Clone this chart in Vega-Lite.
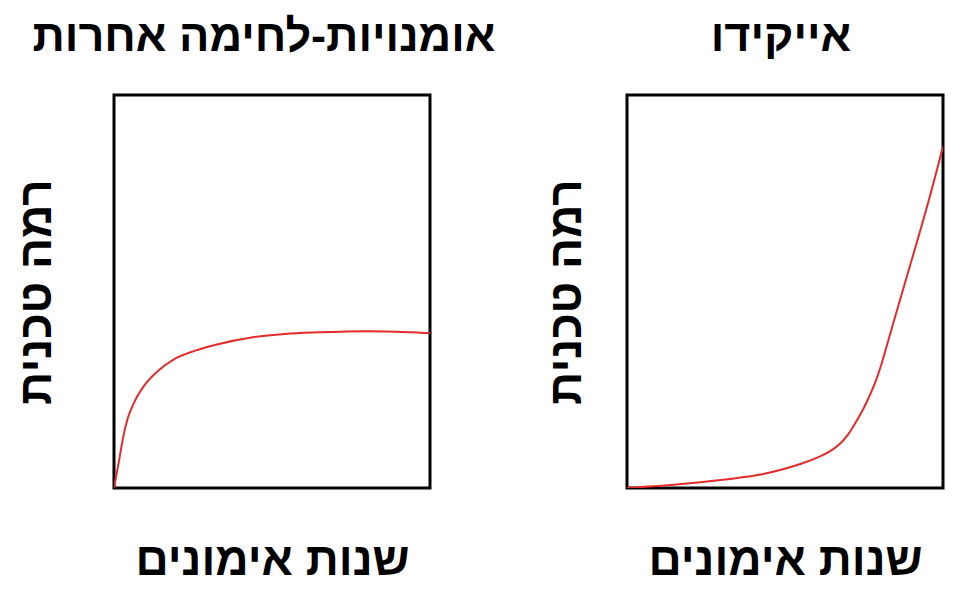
{
  "$schema": "https://vega.github.io/schema/vega-lite/v6.json",
  "background": "white",
  "padding": {"left": 11, "top": 13, "right": 5, "bottom": 5},
  "spacing": 197,
  "bounds": "flush",
  "config": {
    "font": "Liberation Sans",
    "view": {"stroke": "#000000", "strokeWidth": 3},
    "axis": {"domain": false, "ticks": false, "labels": false, "grid": false, "titleFontSize": 46, "titleFontWeight": "bold", "titleColor": "#000000", "titleFont": "Liberation Sans"},
    "title": {"fontSize": 45, "fontWeight": "bold", "color": "#000000", "font": "Liberation Sans", "anchor": "middle", "offset": 35}
  },
  "hconcat": [
    {
      "title": {"text": "אומנויות-לחימה אחרות", "dx": -8},
      "width": 316,
      "height": 393,
      "data": {"values": [
        {"years": 0, "level": 0},
        {"years": 0.17, "level": 7.4},
        {"years": 0.28, "level": 12.5},
        {"years": 0.43, "level": 17.6},
        {"years": 0.64, "level": 21.8},
        {"years": 0.96, "level": 26.1},
        {"years": 1.39, "level": 29.8},
        {"years": 1.91, "level": 32.8},
        {"years": 2.55, "level": 34.9},
        {"years": 3.29, "level": 36.6},
        {"years": 4.35, "level": 38.3},
        {"years": 5.41, "level": 39.2},
        {"years": 6.47, "level": 39.6},
        {"years": 8.05, "level": 39.9},
        {"years": 9.43, "level": 39.6},
        {"years": 10, "level": 39.4}
      ]},
      "mark": {"type": "line", "color": "#e32b2b", "strokeWidth": 2, "interpolate": "monotone", "clip": true},
      "encoding": {
        "x": {"field": "years", "type": "quantitative", "scale": {"domain": [0, 10], "nice": false, "zero": false}, "axis": {"title": "שנות אימונים", "titlePadding": 50}},
        "y": {"field": "level", "type": "quantitative", "scale": {"domain": [0, 100], "nice": false}, "axis": {"title": "רמה טכנית", "titlePadding": 54}}
      }
    },
    {
      "title": {"text": "אייקידו", "dx": -4},
      "width": 316,
      "height": 393,
      "data": {"values": [
        {"years": 0, "level": 0},
        {"years": 1.6, "level": 0.8},
        {"years": 3.0, "level": 2.0},
        {"years": 4.24, "level": 3.3},
        {"years": 4.87, "level": 4.6},
        {"years": 5.51, "level": 6.1},
        {"years": 6.14, "level": 8.0},
        {"years": 6.51, "level": 9.7},
        {"years": 6.77, "level": 11.4},
        {"years": 7.0, "level": 13.5},
        {"years": 7.19, "level": 16.0},
        {"years": 7.41, "level": 19.0},
        {"years": 7.62, "level": 22.4},
        {"years": 7.83, "level": 26.2},
        {"years": 8.04, "level": 30.9},
        {"years": 8.46, "level": 43.0},
        {"years": 8.99, "level": 57.5},
        {"years": 9.52, "level": 72.0},
        {"years": 10, "level": 86.9}
      ]},
      "mark": {"type": "line", "color": "#e32b2b", "strokeWidth": 2, "interpolate": "basis", "clip": true},
      "encoding": {
        "x": {"field": "years", "type": "quantitative", "scale": {"domain": [0, 10], "nice": false, "zero": false}, "axis": {"title": "שנות אימונים", "titlePadding": 50}},
        "y": {"field": "level", "type": "quantitative", "scale": {"domain": [0, 100], "nice": false}, "axis": {"title": "רמה טכנית", "titlePadding": 37}}
      }
    }
  ]
}
